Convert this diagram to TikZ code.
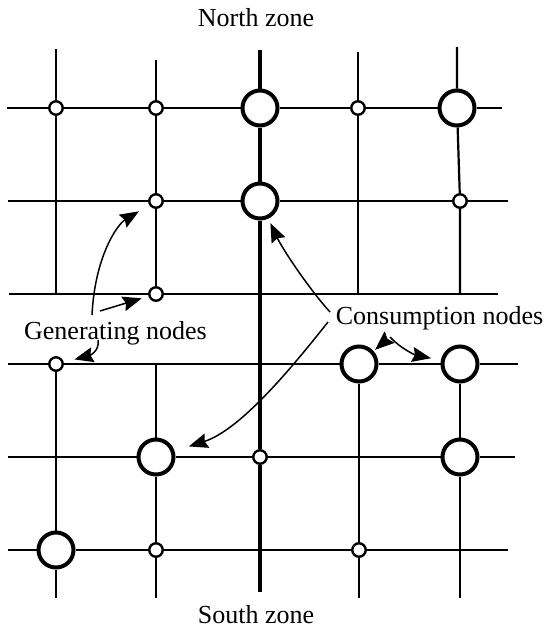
\documentclass[tikz,border=0pt]{standalone}
\usepackage{fontspec}
\setmainfont{Liberation Serif}
\usetikzlibrary{arrows.meta}
\tikzset{
  gridline/.style={line width=2.2pt},
  mainline/.style={line width=4pt},
  sm/.style={circle, draw, fill=white, line width=2.4pt, minimum size=13.5pt, inner sep=0pt},
  big/.style={circle, draw, fill=white, line width=4pt, minimum size=35pt, inner sep=0pt},
  lbl/.style={font=\fontsize{26}{31}\selectfont, inner sep=0pt, anchor=base},
  arr/.style={line width=1.5pt, -{Stealth[length=19pt,width=15pt,inset=2.5pt]}}
}
\begin{document}
\begin{tikzpicture}[x=1pt,y=-1pt]
\useasboundingbox (0,0) rectangle (549,629);
% nodes
\node[sm]  (a1) at (56,108) {};
\node[sm]  (a2) at (156,108) {};
\node[big] (a3) at (260,108) {};
\node[sm]  (a4) at (358,108) {};
\node[big] (a5) at (457,108) {};
\node[sm]  (b2) at (156,201) {};
\node[big] (b3) at (260,201) {};
\node[sm]  (b5) at (460,201) {};
\node[sm]  (c2) at (156,294) {};
\node[sm]  (d1) at (56,364) {};
\node[big] (d4) at (359,364) {};
\node[big] (d5) at (460,364) {};
\node[big] (e2) at (156,457) {};
\node[sm]  (e3) at (260,457) {};
\node[big] (e5) at (460,457) {};
\node[big] (f1) at (56,550) {};
\node[sm]  (f2) at (156,550) {};
\node[sm]  (f4) at (359,550) {};
% free ends
\coordinate (L1) at (7,108);   \coordinate (R1) at (502,108);
\coordinate (L2) at (8,201);   \coordinate (R2) at (508,201);
\coordinate (L3) at (9,294);   \coordinate (R3) at (498,294);
\coordinate (L4) at (8,364);   \coordinate (R4) at (518,364);
\coordinate (L5) at (8,457);   \coordinate (R5) at (515,457);
\coordinate (L6) at (8,550);   \coordinate (R6) at (508,550);
\coordinate (T1) at (56,49);   \coordinate (T2) at (156,60);
\coordinate (T3) at (260,50);  \coordinate (T4) at (358,52);
\coordinate (T5) at (457,47);
\coordinate (X31) at (56,294); \coordinate (X34) at (358,294);
\coordinate (X35) at (460,294); \coordinate (Y2) at (156,364);
\coordinate (B1) at (56,598);  \coordinate (B2) at (156,598);
\coordinate (B3) at (260,592); \coordinate (B4) at (359,598);
\coordinate (B5) at (460,598);
% grid lines
\draw[gridline] (L1) -- (a1) -- (a2) -- (a3) -- (a4) -- (a5) -- (R1);
\draw[gridline] (L2) -- (b2) -- (b3) -- (b5) -- (R2);
\draw[gridline] (L3) -- (c2) -- (R3);
\draw[gridline] (L4) -- (d1) -- (d4) -- (d5) -- (R4);
\draw[gridline] (L5) -- (e2) -- (e3) -- (e5) -- (R5);
\draw[gridline] (L6) -- (f1) -- (f2) -- (f4) -- (R6);
\draw[gridline] (T1) -- (a1) -- (X31);
\draw[gridline] (T2) -- (a2) -- (b2) -- (c2);
\draw[gridline] (T4) -- (a4) -- (X34);
\draw[gridline] (T5) -- (a5) -- (b5) -- (X35);
\draw[gridline] (d1) -- (f1) -- (B1);
\draw[gridline] (Y2) -- (e2) -- (f2) -- (B2);
\draw[gridline] (d4) -- (f4) -- (B4);
\draw[gridline] (d5) -- (e5) -- (B5);
\draw[mainline] (T3) -- (a3) -- (b3) -- (e3) -- (B3);
% labels
\node[lbl] (north) at (256,27) {North zone};
\node[lbl] (south) at (256,623) {South zone};
\node[lbl] (gen) at (115.5,339) {Generating nodes};
\node[lbl] (con) at (439.5,324) {Consumption nodes};
% arrow starts
\coordinate (gs1) at (92,315);
\coordinate (gs2) at (100,311);
\coordinate (gs3) at (98,340);
\coordinate (cs1) at (330,312);
\coordinate (cs2) at (328,322);
\coordinate (cs3) at (385,333);
\coordinate (cs4) at (390,337);
% arrows
\draw[arr, shorten >=12pt] (gs1) .. controls (95,255) and (118,224) .. (b2);
\draw[arr, shorten >=7pt] (gs2) -- (c2);
\draw[arr, shorten >=11pt] (gs3) .. controls (100,352) and (88,356) .. (d1);
\draw[arr, shorten >=5pt] (cs1) .. controls (310,290) and (283,250) .. (b3);
\draw[arr, shorten >=15pt] (cs2) .. controls (290,370) and (240,430) .. (e2);
\draw[arr, shorten >=2pt] (cs3) .. controls (384,342) .. (d4);
\draw[arr, shorten >=10pt] (cs4) .. controls (400,348) and (415,355) .. (d5);
\end{tikzpicture}
\end{document}
